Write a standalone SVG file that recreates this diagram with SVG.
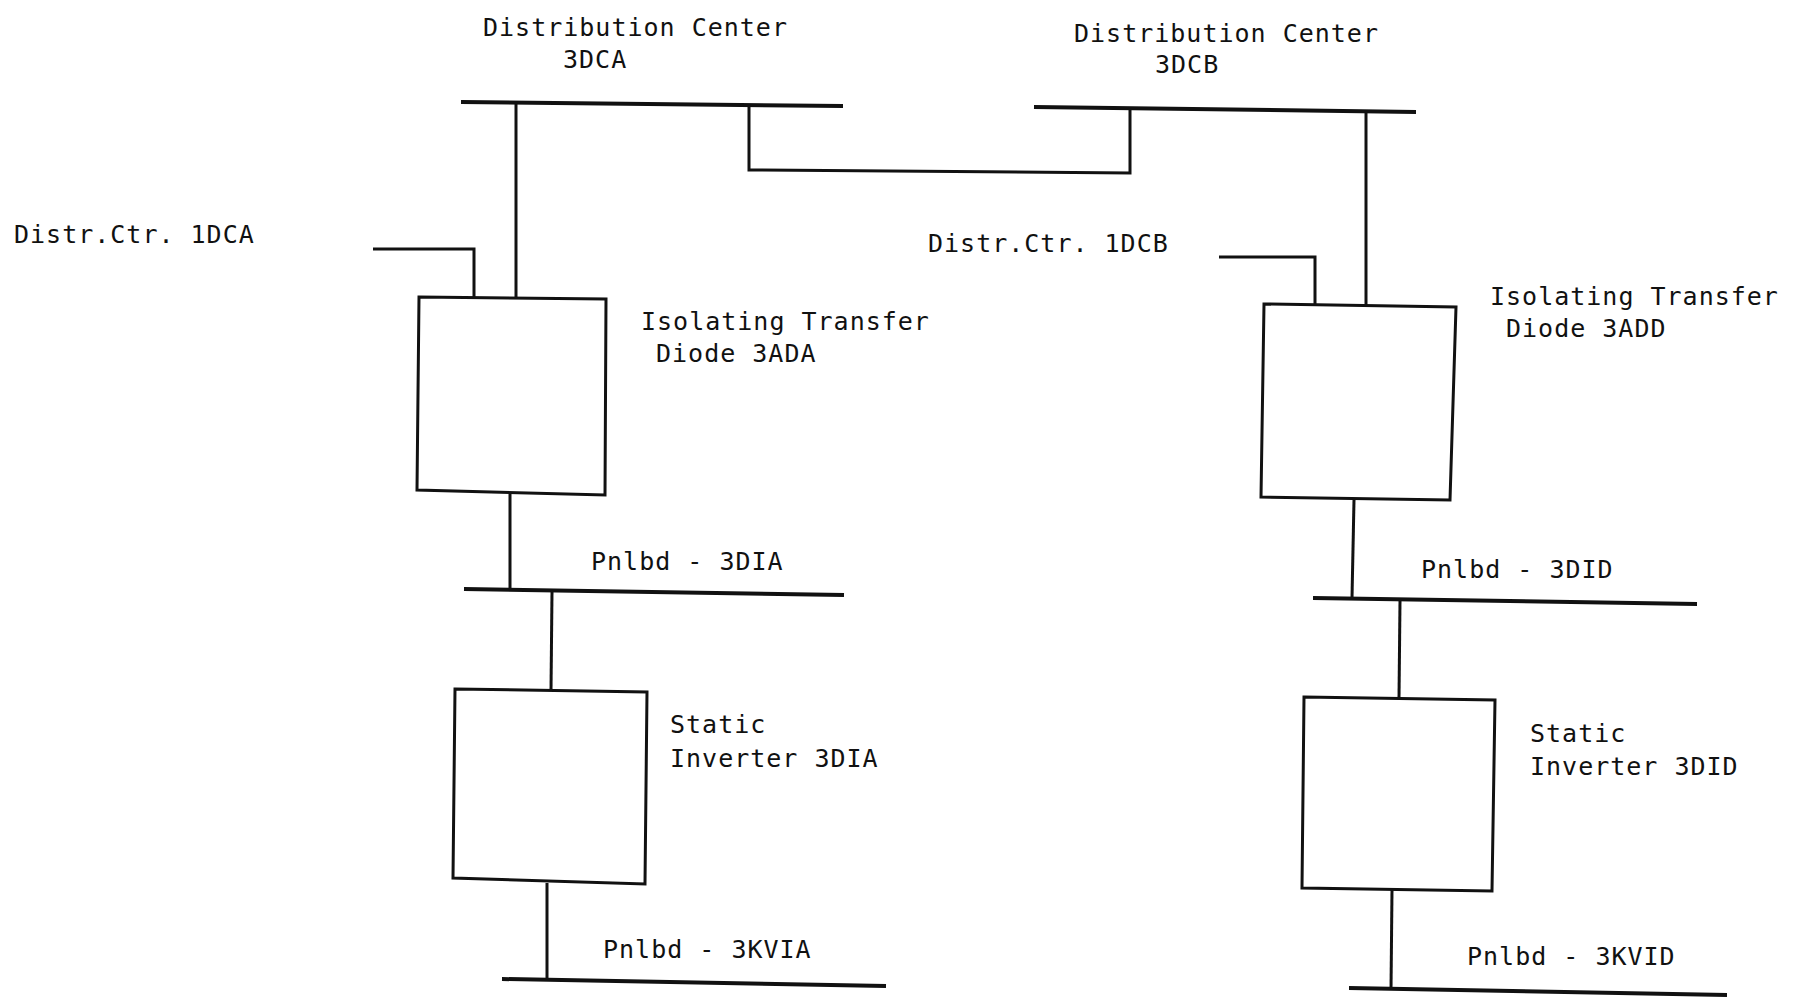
<svg xmlns="http://www.w3.org/2000/svg" width="1793" height="998" viewBox="0 0 1793 998">
<style>
text{font-family:"DejaVu Sans Mono","Liberation Mono",monospace;font-size:25px;letter-spacing:1px;fill:#111}
.bus{stroke:#111;stroke-width:4;fill:none;stroke-linecap:butt}
.box{stroke:#111;stroke-width:3;fill:#fff;stroke-linejoin:miter}
.wire{stroke:#111;stroke-width:3;fill:none;stroke-linejoin:miter}
</style>
<rect width="1793" height="998" fill="#fff"/>
<g id="connectors">
<path class="wire" d="M516,103 L516,297"/>
<path class="wire" d="M749,105 L749,170 L1130,173 L1130,109"/>
<path class="wire" d="M373,249 L474,249 L474,297"/>
<path class="wire" stroke-width="2.5" d="M1366,112 L1366,305"/>
<path class="wire" d="M1219,257 L1315,257 L1315,305"/>
<path class="wire" d="M510,494 L510,590"/>
<path class="wire" d="M552,592 L551,690"/>
<path class="wire" d="M547,883 L547,979"/>
<path class="wire" d="M1354,500 L1352,598"/>
<path class="wire" d="M1400,601 L1399,698"/>
<path class="wire" d="M1392,890 L1391,989"/>
</g>
<g id="dc3a">
<path class="bus" d="M461,102 L843,106"/>
<text x="483" y="36">Distribution Center</text>
<text x="563" y="68">3DCA</text>
</g>
<g id="dc3b">
<path class="bus" d="M1034,107 L1416,112"/>
<text x="1074" y="42">Distribution Center</text>
<text x="1155" y="73">3DCB</text>
</g>
<g id="dc1a">
<text x="14" y="243">Distr.Ctr. 1DCA</text>
</g>
<g id="dc1b">
<text x="928" y="252">Distr.Ctr. 1DCB</text>
</g>
<g id="itd3ada">
<path class="box" d="M419,297 L606,299 L605,495 L417,490 Z"/>
<text x="641" y="330">Isolating Transfer</text>
<text x="656" y="362">Diode 3ADA</text>
</g>
<g id="itd3add">
<path class="box" d="M1264,304 L1456,307 L1450,500 L1261,497 Z"/>
<text x="1490" y="305">Isolating Transfer</text>
<text x="1506" y="337">Diode 3ADD</text>
</g>
<g id="p3dia">
<path class="bus" d="M464,589 L844,595"/>
<text x="591" y="570">Pnlbd - 3DIA</text>
</g>
<g id="p3did">
<path class="bus" d="M1313,598 L1697,604"/>
<text x="1421" y="578">Pnlbd - 3DID</text>
</g>
<g id="si3dia">
<path class="box" d="M455,689 L647,692 L645,884 L453,878 Z"/>
<text x="670" y="733">Static</text>
<text x="670" y="767">Inverter 3DIA</text>
</g>
<g id="si3did">
<path class="box" d="M1304,697 L1495,700 L1492,891 L1302,888 Z"/>
<text x="1530" y="742">Static</text>
<text x="1530" y="775">Inverter 3DID</text>
</g>
<g id="p3kvia">
<path class="bus" d="M502,979 L886,986"/>
<text x="603" y="958">Pnlbd - 3KVIA</text>
</g>
<g id="p3kvid">
<path class="bus" d="M1349,988 L1727,995"/>
<text x="1467" y="965">Pnlbd - 3KVID</text>
</g>
</svg>
